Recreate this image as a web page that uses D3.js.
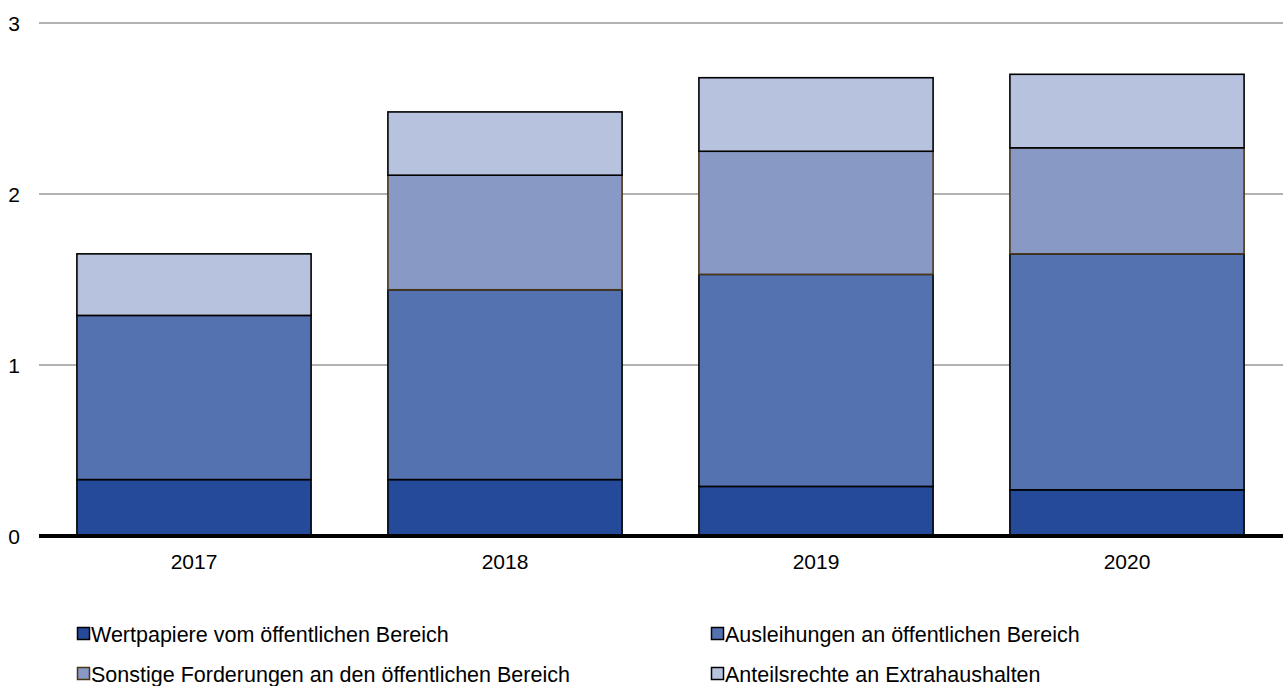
<!DOCTYPE html>
<html><head><meta charset="utf-8">
<script src="https://cdn.jsdelivr.net/npm/d3@7"></script>
<style>body{margin:0;background:#fff}svg{display:block;font-family:"Liberation Sans",Arial,sans-serif}</style>
</head><body><svg id="c" width="1283" height="686"></svg>
<script>
const years = ["2017","2018","2019","2020"];
const wertpapiere = [0.33, 0.33, 0.29, 0.27];
const ausleihungen = [0.96, 1.11, 1.24, 1.38];
const sonstige = [0, 0.67, 0.72, 0.62];
const anteilsrechte = [0.36, 0.37, 0.43, 0.43];
const yTicks = [0, 1, 2, 3];
const seriesNames = ["Wertpapiere vom öffentlichen Bereich","Ausleihungen an öffentlichen Bereich","Sonstige Forderungen an den öffentlichen Bereich","Anteilsrechte an Extrahaushalten"];
const colors = ["#254a9a","#5472b0","#8799c4","#b7c3de"];
const strokes = ["#000","#000","#4a3515","#000"];

const svg = d3.select("#c");
const x = d3.scaleBand().domain(years).range([38.5,1282.5]).paddingInner(0.247).paddingOuter(0.1235);
const y = d3.scaleLinear().domain([0,3]).range([536,23]);

svg.append("g").selectAll("line").data(yTicks.filter(d=>d>0)).join("line")
  .attr("x1",39).attr("x2",1283).attr("y1",d=>y(d)).attr("y2",d=>y(d))
  .attr("stroke","#999").attr("stroke-width",1.4);

const rows = years.map((yr,i)=>({year:yr, s0:wertpapiere[i], s1:ausleihungen[i], s2:sonstige[i], s3:anteilsrechte[i]}));
const stack = d3.stack().keys(["s0","s1","s2","s3"])(rows);
stack.forEach((layer,k)=>{
  svg.append("g").selectAll("rect").data(layer.filter(d=>d[1]-d[0]>0)).join("rect")
    .attr("x",d=>x(d.data.year)).attr("width",x.bandwidth())
    .attr("y",d=>y(d[1])).attr("height",d=>y(d[0])-y(d[1]))
    .attr("fill",colors[k]).attr("stroke",strokes[k]).attr("stroke-width",1.6);
});

svg.append("line").attr("x1",39).attr("x2",1283).attr("y1",y(0)).attr("y2",y(0)).attr("stroke","#000").attr("stroke-width",4);

svg.append("g").selectAll("text").data(yTicks).join("text")
  .attr("x",20).attr("y",d=>y(d)+7.5).attr("text-anchor","end").attr("font-size",21).attr("fill","#000").text(d=>d);

svg.append("g").selectAll("text").data(years).join("text")
  .attr("x",d=>x(d)+x.bandwidth()/2).attr("y",568.5).attr("text-anchor","middle").attr("font-size",21).attr("fill","#000").text(d=>d);

const leg = svg.append("g").selectAll("g").data(seriesNames).join("g")
  .attr("transform",(d,i)=>`translate(${i%2===0?77:711},${i<2?634:674})`);
leg.append("rect").attr("x",0.5).attr("y",-6.5).attr("width",12).attr("height",12)
  .attr("fill",(d,i)=>colors[i]).attr("stroke",(d,i)=>strokes[i]).attr("stroke-width",1.5);
leg.append("text").attr("x",14).attr("y",7.5).attr("font-size",21.5).attr("fill","#000").text(d=>d);
</script></body></html>
